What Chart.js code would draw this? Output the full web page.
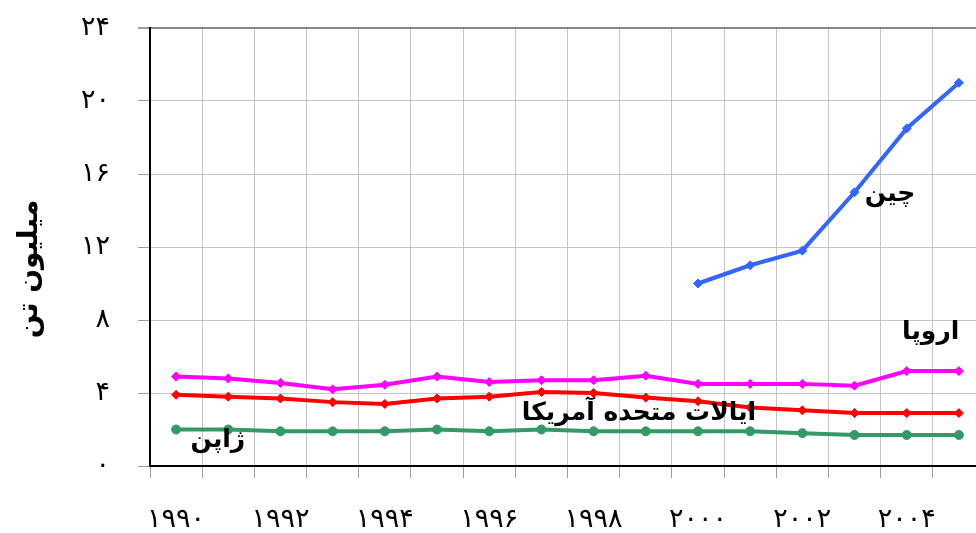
<!DOCTYPE html>
<html lang="fa">
<head>
<meta charset="UTF-8">
<title>میلیون تن</title>
<script src="https://cdn.jsdelivr.net/npm/chart.js"></script>
<style>
  html, body { margin: 0; padding: 0; background: #fff; overflow: hidden; }
  /* the plot runs a little past the right edge of the window */
  #wrap { width: 985px; height: 533px; }
</style>
</head>
<body>
<div id="wrap"><canvas id="chart"></canvas></div>
<script>
// categories (years) and series values, million tonnes
const years = [1990, 1991, 1992, 1993, 1994, 1995, 1996, 1997, 1998, 1999, 2000, 2001, 2002, 2003, 2004, 2005];
const china = [null, null, null, null, null, null, null, null, null, null, 10, 11, 11.8, 15, 18.5, 21];
const europe = [4.9, 4.8, 4.55, 4.2, 4.45, 4.9, 4.6, 4.7, 4.7, 4.95, 4.5, 4.5, 4.5, 4.4, 5.2, 5.2];
const usa = [3.9, 3.8, 3.7, 3.5, 3.4, 3.7, 3.8, 4.05, 4.0, 3.75, 3.55, 3.2, 3.05, 2.9, 2.9, 2.9];
const japan = [2.0, 2.0, 1.9, 1.9, 1.9, 2.0, 1.9, 2.0, 1.9, 1.9, 1.9, 1.9, 1.8, 1.7, 1.7, 1.7];
const yTicks = [0, 4, 8, 12, 16, 20, 24];
const yTitle = 'میلیون تن';

// series names written on the plot, anchored in data coordinates (category index, value)
const seriesNames = ['چین', 'اروپا', 'ایالات متحده آمریکا', 'ژاپن'];
const nameAnchors = [[13.68, 14.9], [14.46, 7.3], [8.87, 2.85], [0.8, 1.4]];

const faDigits = '۰۱۲۳۴۵۶۷۸۹';
function toFa(n) {
  return String(n).replace(/[0-9]/g, d => faDigits[d]);
}

const FONT = '"DejaVu Sans", sans-serif';

const seriesLabels = {
  id: 'seriesLabels',
  afterDatasetsDraw(chart) {
    const ctx = chart.ctx;
    const xs = chart.scales.x, ys = chart.scales.y;
    ctx.save();
    ctx.fillStyle = '#000';
    ctx.font = 'bold 25px ' + FONT;
    ctx.textAlign = 'center';
    ctx.textBaseline = 'middle';
    ctx.direction = 'rtl';
    seriesNames.forEach((t, i) => {
      const [ix, v] = nameAnchors[i];
      const x = xs.left + (ix + 0.5) * (xs.width / years.length);
      ctx.fillText(t, x, ys.getPixelForValue(v));
    });
    // y axis title, rotated
    ctx.translate(30, (ys.top + ys.bottom) / 2 + 22);
    ctx.rotate(-Math.PI / 2);
    ctx.font = 'bold 28px ' + FONT;
    ctx.fillText(yTitle, 0, 0);
    ctx.restore();
  }
};

function series(label, data, color, style) {
  return {
    label, data,
    borderColor: color,
    backgroundColor: color,
    borderWidth: 4,
    pointStyle: style,
    pointRadius: 4.5,
    pointBorderWidth: 1,
    tension: 0,
    spanGaps: false
  };
}

new Chart(document.getElementById('chart'), {
  type: 'line',
  data: {
    labels: years,
    datasets: [
      series('چین', china, '#3366FF', 'rectRot'),
      series('اروپا', europe, '#FF00FF', 'rectRot'),
      series('ایالات متحده آمریکا', usa, '#FF0000', 'rectRot'),
      series('ژاپن', japan, '#339966', 'circle')
    ]
  },
  options: {
    responsive: true,
    maintainAspectRatio: false,
    animation: false,
    devicePixelRatio: 1,
    layout: { autoPadding: false, padding: { top: 28, right: 0, left: 0, bottom: 0 } },
    plugins: { legend: { display: false }, tooltip: { enabled: false } },
    scales: {
      x: {
        type: 'category',
        offset: true,
        grid: { offset: true, color: '#c4c4c4', lineWidth: 1, tickLength: 12, tickColor: '#9e9e9e' },
        border: { color: '#000', width: 2 },
        ticks: {
          autoSkip: false,
          maxRotation: 0,
          padding: 26,
          color: '#000',
          font: { family: FONT, size: 27 },
          callback: (v, i) => (i % 2 === 0 ? toFa(years[i]) : '')
        },
        afterFit: s => { s.height = 67; s.paddingLeft = 0; s.paddingRight = 0; }
      },
      y: {
        min: 0,
        max: 24,
        afterBuildTicks: s => { s.ticks = yTicks.map(v => ({ value: v })); },
        grid: {
          color: c => (c.tick && c.tick.value === 24 ? '#888' : '#c4c4c4'),
          lineWidth: c => (c.tick && c.tick.value === 24 ? 2 : 1),
          tickLength: 12,
          tickColor: '#9e9e9e'
        },
        border: { color: '#000', width: 2 },
        ticks: {
          padding: 28,
          color: '#000',
          font: { family: FONT, size: 27 },
          callback: v => toFa(v)
        },
        afterFit: s => { s.width = 150; s.paddingTop = 0; s.paddingBottom = 0; }
      }
    }
  },
  plugins: [seriesLabels]
});
</script>
</body>
</html>
